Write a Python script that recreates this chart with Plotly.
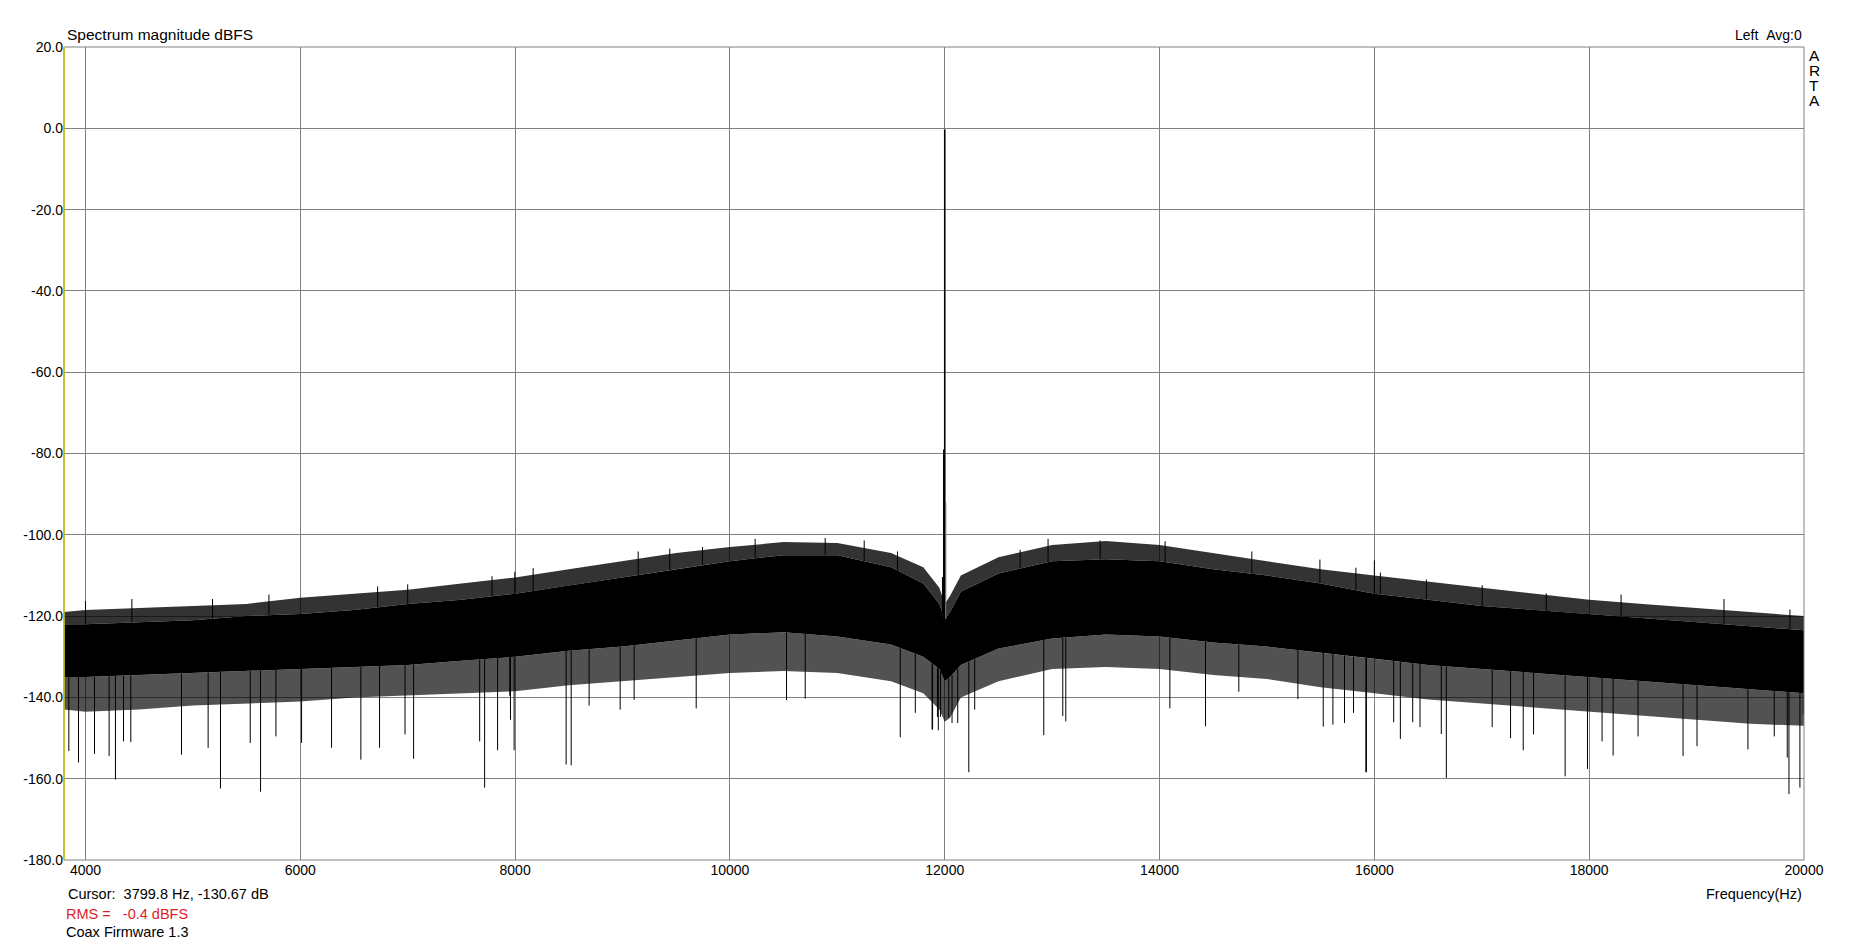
import numpy as np
import plotly.graph_objects as go

# ---------------- data ----------------
# envelope of the dense noise trace (Hz, dBFS)
FREQ = [3800, 4000, 4500, 5000, 5500, 6000, 6500, 7000, 7500, 8000, 8500, 9000,
        9500, 10000, 10500, 11000, 11500, 11800, 11950, 12000, 12050, 12150,
        12500, 13000, 13500, 14000, 14500, 15000, 15500, 16000, 16500, 17000,
        17500, 18000, 18500, 19000, 19500, 20000]
TIP_TOP = [-119, -118.5, -118, -117.5, -117, -115.5, -114.5, -113.5, -112, -110.5,
           -108.5, -106.5, -104.5, -103, -101.8, -102, -104.5, -108, -113, -117,
           -115, -110, -105.5, -102.5, -101.5, -102.5, -104.5, -106.5, -108.5,
           -110, -111.5, -113, -114.5, -116, -117, -118, -119, -120]
SOLID_TOP = [-122, -122, -121.5, -121, -120, -119.5, -118.5, -117, -116, -114.5,
             -112.5, -110.5, -108.5, -106.5, -105, -105, -108, -112, -117, -121,
             -119, -114, -109.5, -106.5, -106, -106.5, -108.5, -110, -112, -114.5,
             -116, -117.5, -118.5, -119.5, -120.5, -121.5, -122.5, -123.5]
SOLID_BOT = [-135, -135, -134.5, -134, -133.5, -133, -132.5, -132, -131, -130,
             -128.5, -127.5, -126, -124.5, -124, -125, -127, -130, -133, -136,
             -135, -132, -128, -125.5, -124.5, -125, -126.5, -127.5, -129, -130.5,
             -132, -133, -134, -135, -136, -137, -138, -139]
FRINGE_BOT = [-143, -143.5, -143, -142, -141.5, -141, -140, -139.5, -139, -138.5,
              -137, -136, -135, -134, -133.5, -134, -136, -139, -143, -146,
              -145, -140, -136, -133, -132.5, -133, -134.5, -135.5, -137.5, -139,
              -140.5, -141.5, -142.5, -143.5, -144.5, -145.5, -146.5, -147]

# isolated deep downward spikes (Hz, dBFS)
DEEP_F = [3845, 3935, 4084, 4220, 4279, 4354, 4422, 4894, 5142, 5257, 5534, 5630,
          5773, 6012, 6291, 6564, 6738, 6975, 7055, 7670, 7716, 7837, 7950, 7957,
          7991, 8475, 8522, 8689, 8978, 9108, 9686, 10527, 10701, 11586, 11726,
          11882, 11887, 11932, 11940, 11960, 12037, 12068, 12121, 12224, 12279,
          12922, 13099, 13127, 14096, 14428, 14738, 15288, 15524, 15614, 15722,
          15806, 15921, 15926, 16180, 16242, 16357, 16425, 16623, 16670, 17097,
          17268, 17386, 17482, 17776, 17984, 18120, 18223, 18455, 18874, 19004,
          19478, 19723, 19844, 19860, 19962, 19993]
DEEP_DB = [-153.2, -156, -153.9, -154.4, -160.2, -150.8, -151, -154.1, -152.4,
           -162.4, -151.2, -163.2, -149.6, -151.2, -152.4, -155.3, -152.4, -149.1,
           -155.1, -150.8, -162.2, -153, -139.6, -145.5, -153, -156.5, -156.7,
           -142, -143, -140.6, -142.7, -140.7, -140.3, -149.8, -143.8, -147.9,
           -147.9, -144.8, -148.1, -144.8, -145, -146.3, -146.3, -158.4, -143,
           -149.3, -144.6, -145.9, -142.7, -147.1, -138.6, -140.4, -147.2, -146.7,
           -146.3, -143.8, -158.4, -158.4, -146.1, -150.2, -146.1, -147.3, -149,
           -159.8, -147.3, -150, -153, -149.1, -159.4, -157.6, -150.8, -154.3,
           -149.6, -154.4, -152, -152.8, -149.6, -154.8, -163.8, -162.2, -144.2]

# prominent upward spikes above the dense band (Hz, dBFS)
UP_F = [4000, 4432, 5183, 5708, 6720, 7000, 7785, 7997, 8168, 9146, 9440, 9745,
        10235, 10887, 11250, 11560, 12702, 12962, 13447, 14052, 14859, 15493,
        15828, 16000, 16056, 16484, 17004, 17600, 18297, 19255, 19869]
UP_DB = [-116.3, -115.8, -115.8, -114.7, -112.7, -112.2, -110.2, -109.1, -108.2,
         -104.1, -103.4, -103, -101, -100.8, -101.4, -104.1, -103.7, -101, -101.4,
         -101.6, -104.1, -106.1, -108.1, -106.3, -109.3, -111, -112.4, -114.4,
         -114.7, -115.8, -118.4]

# 12 kHz tone and its neighbouring bins
PEAK_F = [11981, 11991, 12000, 12009]
PEAK_DB = [-110.4, -79, -0.3, -92]

X_TICKS = [4000, 6000, 8000, 10000, 12000, 14000, 16000, 18000, 20000]
X_TICKTEXT = ["4000", "6000", "8000", "10000", "12000", "14000", "16000", "18000", "20000"]
Y_TICKS = [20, 0, -20, -40, -60, -80, -100, -120, -140, -160, -180]
Y_TICKTEXT = ["20.0", "0.0", "-20.0", "-40.0", "-60.0", "-80.0", "-100.0",
              "-120.0", "-140.0", "-160.0", "-180.0"]

# ---------------- figure ----------------
FONT = "Liberation Sans, Arial, sans-serif"
fig = go.Figure()


def band(upper, lower, color):
    xs = list(FREQ) + list(FREQ[::-1])
    ys = list(upper) + list(lower[::-1])
    fig.add_trace(go.Scatter(x=xs, y=ys, fill="toself", fillcolor=color,
                             mode="lines", line=dict(width=0), hoverinfo="skip",
                             showlegend=False))


band(TIP_TOP, SOLID_TOP, "rgba(0,0,0,0.8)")
band(SOLID_TOP, SOLID_BOT, "rgb(0,0,0)")
band(SOLID_BOT, FRINGE_BOT, "rgba(0,0,0,0.68)")


def spikes(fs, dbs, base_arr, color="black", width=1):
    base = np.interp(fs, FREQ, base_arr)
    xs, ys = [], []
    for f, b, d in zip(fs, base, dbs):
        xs += [f, f, None]
        ys += [b, d, None]
    fig.add_trace(go.Scatter(x=xs, y=ys, mode="lines",
                             line=dict(color=color, width=width),
                             hoverinfo="skip", showlegend=False))


spikes(DEEP_F, DEEP_DB, SOLID_BOT)
spikes(UP_F, UP_DB, SOLID_TOP)
spikes(PEAK_F[:2], PEAK_DB[:2], SOLID_TOP, width=1.5)
spikes([PEAK_F[2]], [PEAK_DB[2]], SOLID_TOP, width=1.6)
spikes([PEAK_F[3]], [PEAK_DB[3]], SOLID_TOP, color="#707070", width=1.2)

GRID = "#808080"
fig.update_xaxes(range=[3800, 20000], tickvals=X_TICKS, ticktext=X_TICKTEXT,
                 showgrid=True, gridcolor=GRID, gridwidth=1, zeroline=False,
                 showline=False, ticks="", tickfont=dict(family=FONT, size=14, color="black"))
fig.update_yaxes(range=[-180, 20], tickvals=Y_TICKS, ticktext=Y_TICKTEXT,
                 showgrid=True, gridcolor=GRID, gridwidth=1, zeroline=False,
                 showline=False, ticks="", tickfont=dict(family=FONT, size=14, color="black"))

L, R, T, B = 64, 64, 47, 84
W, H = 1868, 944
PW, PH = W - L - R, H - T - B


def px(xp):
    return (xp - L) / PW


def py(yp):
    return (H - B - yp) / PH


shapes = [
    dict(type="rect", xref="paper", yref="paper", x0=0, y0=0, x1=1, y1=1,
         line=dict(color=GRID, width=1), layer="above"),
    dict(type="line", xref="paper", yref="paper", x0=0, y0=0, x1=0, y1=1,
         line=dict(color="#c8c400", width=1.5), layer="above"),
]

ann = []


def text(t, xp, yp, anchor="left", size=14, color="black"):
    ann.append(dict(text=t, xref="paper", yref="paper", x=px(xp), y=py(yp),
                    xanchor=anchor, yanchor="middle", showarrow=False,
                    font=dict(family=FONT, size=size, color=color)))


text("Spectrum magnitude dBFS", 65, 34, size=15.5)
text("Left\u00a0\u00a0Avg:0", 1804, 35, anchor="right")
for i, ch in enumerate("ARTA"):
    text(ch, 1814, 55.5 + 15 * i, anchor="center", size=15.5)
text("Cursor:\u00a0\u00a03799.8 Hz, -130.67 dB", 65.5, 894, size=14.5)
text("Frequency(Hz)", 1804, 894, anchor="right", size=14.5)
text("RMS =\u00a0\u00a0\u00a0-0.4 dBFS", 63.5, 914, size=14.5, color="#dc1e28")
text("Coax Firmware 1.3", 63.5, 932, size=14.5)

fig.update_layout(width=W, height=H, margin=dict(l=L, r=R, t=T, b=B, pad=0),
                  plot_bgcolor="white", paper_bgcolor="white",
                  shapes=shapes, annotations=ann, showlegend=False)

fig.write_html("out.html", config={"displayModeBar": False},
               post_script="document.body.style.margin='0px';"
                           "document.body.style.overflow='hidden';")
